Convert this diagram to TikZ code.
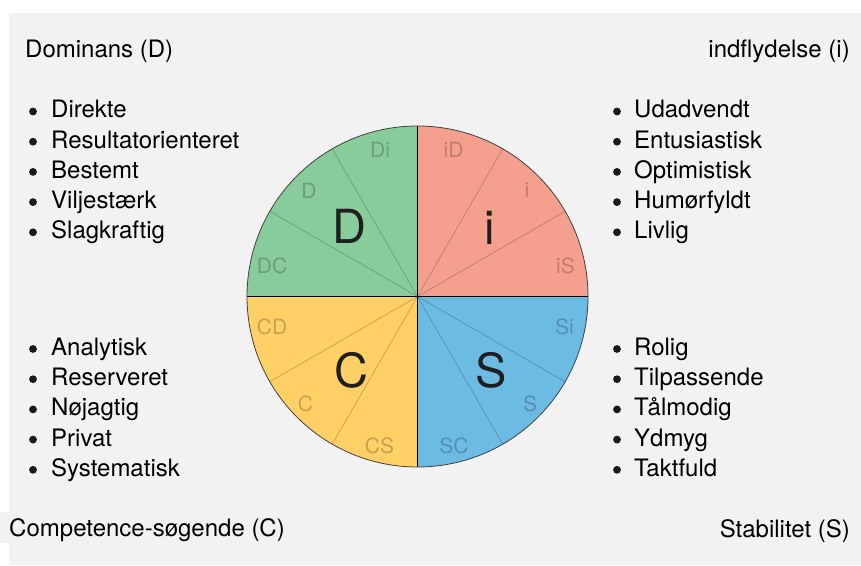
\documentclass[tikz,border=0pt]{standalone}
\usepackage{fontspec}
\setmainfont{TeX Gyre Heros}
\definecolor{bgc}{RGB}{242,242,242}
\definecolor{dgreen}{RGB}{137,204,155}
\definecolor{isalmon}{RGB}{245,160,143}
\definecolor{sblue}{RGB}{108,187,227}
\definecolor{cyellow}{RGB}{254,208,102}
\begin{document}
\begin{tikzpicture}[x=1pt,y=1pt,
  heading/.style={font=\fontsize{24}{28}\selectfont, inner sep=0pt},
  item/.style={font=\fontsize{24}{28}\selectfont, inner sep=0pt, anchor=base west},
  bul/.style={fill=black!90},
  big/.style={font=\fontsize{47}{50}\selectfont, text=black!88, inner sep=0pt},
  small/.style={font=\fontsize{21}{24}\selectfont, text=black, text opacity=0.22, inner sep=0pt},
  sub/.style={draw=black, draw opacity=0.25, line width=0.6pt},
  mainline/.style={draw=black, line width=1.3pt}]
\useasboundingbox (0,0) rectangle (861,565);
\fill[bgc] (9,0) rectangle (861,552);
\fill[bgc] (0,22) rectangle (9,53);
\coordinate (c) at (417.5,268.5);
\def\R{170.5}
% quadrants
\fill[dgreen]  (c) -- ([shift={(90:\R)}]c)  arc[start angle=90, end angle=180, radius=\R] -- cycle;
\fill[isalmon] (c) -- ([shift={(0:\R)}]c)   arc[start angle=0, end angle=90, radius=\R] -- cycle;
\fill[sblue]   (c) -- ([shift={(270:\R)}]c) arc[start angle=270, end angle=360, radius=\R] -- cycle;
\fill[cyellow] (c) -- ([shift={(180:\R)}]c) arc[start angle=180, end angle=270, radius=\R] -- cycle;
% sub dividers
\foreach \a in {30,60,120,150,210,240,300,330}
  \draw[sub] (c) -- ([shift={(\a:\R)}]c);
% main dividers
\coordinate (cl) at ([shift={(180:\R)}]c);
\coordinate (cr) at ([shift={(0:\R)}]c);
\coordinate (ct) at ([shift={(90:\R)}]c);
\coordinate (cb) at ([shift={(270:\R)}]c);
\draw[mainline] (cl) -- (cr);
\draw[mainline] (ct) -- (cb);
\draw[line width=0.8pt, draw=black!75] (c) circle[radius=\R];
% big letters
\node[big] (bD) at (349,339) {D};
\node[big] (bi) at (490,337) {i};
\node[big] (bC) at (351,195) {C};
\node[big] (bS) at (491,195) {S};
% small labels
\node[small] (sDi) at (380,415.5) {Di};
\node[small] (sD)  at (309,374.5) {D};
\node[small] (sDC) at (272,299.5) {DC};
\node[small] (siD) at (453.5,415) {iD};
\node[small] (si)  at (527,374.5) {i};
\node[small] (siS) at (565.5,299) {iS};
\node[small] (sSi) at (564.5,238.5) {Si};
\node[small] (sS)  at (530,161) {S};
\node[small] (sSC) at (454,119.5) {SC};
\node[small] (sCD) at (272,238.5) {CD};
\node[small] (sC)  at (305.5,161) {C};
\node[small] (sCS) at (379.5,119.5) {CS};
% headings
\node[heading, anchor=base west] (hD) at (25,507.7) {Dominans (D)};
\node[heading, anchor=base east] (hi) at (850,507.7) {indflydelse (i)};
\node[heading, anchor=base west] (hC) at (9,29) {Competence-søgende (C)};
\node[heading, anchor=base east] (hS) at (850,28) {Stabilitet (S)};
% lists
\foreach \t [count=\k] in {Direkte,Resultatorienteret,Bestemt,Viljestærk,Slagkraftig}{
  \node[item] (ld\k) at (51,{447-30.2*(\k-1)}) {\t};
  \fill[bul] (33,{447-30.2*(\k-1)+6.5}) circle[radius=3.9];}
\foreach \t [count=\k] in {Udadvendt,Entusiastisk,Optimistisk,Humørfyldt,Livlig}{
  \node[item] (li\k) at (634,{447-30.2*(\k-1)}) {\t};
  \fill[bul] (617,{447-30.2*(\k-1)+6.5}) circle[radius=3.9];}
\foreach \t [count=\k] in {Analytisk,Reserveret,Nøjagtig,Privat,Systematisk}{
  \node[item] (lc\k) at (51,{209.5-30.2*(\k-1)}) {\t};
  \fill[bul] (33,{209.5-30.2*(\k-1)+6.5}) circle[radius=3.9];}
\foreach \t [count=\k] in {Rolig,Tilpassende,Tålmodig,Ydmyg,Taktfuld}{
  \node[item] (ls\k) at (634,{209.5-30.2*(\k-1)}) {\t};
  \fill[bul] (617,{209.5-30.2*(\k-1)+6.5}) circle[radius=3.9];}
\end{tikzpicture}
\end{document}
